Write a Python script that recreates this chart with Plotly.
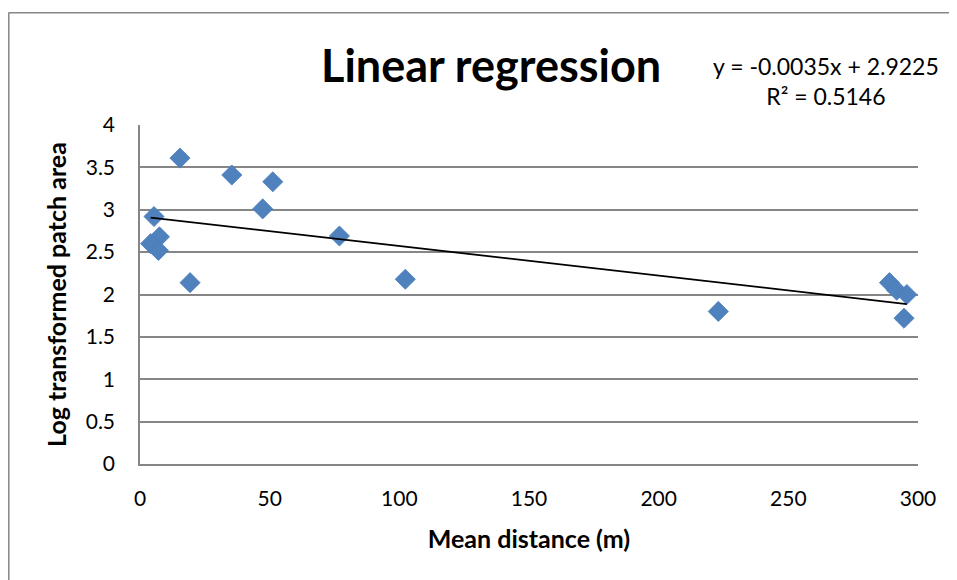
import plotly.graph_objects as go

# Data
mean_distance = [15.4, 35.4, 51.2, 47.3, 5.4, 7.5, 4.1, 7.1, 19.3, 76.9, 102.3,
                 223.0, 289.0, 291.8, 295.7, 294.6]
log_patch_area = [3.61, 3.41, 3.33, 3.01, 2.92, 2.68, 2.60, 2.52, 2.14, 2.69, 2.18,
                  1.80, 2.14, 2.05, 2.00, 1.72]

# Trendline coefficients as displayed on the chart
slope = -0.0035
intercept = 2.9225
r_squared = 0.5146

x_ticks = [0, 50, 100, 150, 200, 250, 300]
y_ticks = [0, 0.5, 1, 1.5, 2, 2.5, 3, 3.5, 4]

W, H = 957, 580
OFF = 8  # page body margin
L, R, T, B = 132, 47, 116.5, 123.5
pw, ph = W - L - R, H - T - B

def px(sx):
    return (sx - OFF - L) / pw

def py(sy):
    return (H - B - (sy - OFF)) / ph

font = "Lato, 'Open Sans', sans-serif"

x_line = [min(mean_distance), max(mean_distance)]
y_line = [slope * v + intercept for v in x_line]

fig = go.Figure()
fig.add_trace(go.Scatter(
    x=mean_distance, y=log_patch_area, mode="markers",
    marker=dict(symbol="diamond", size=15.5, color="#4F81BD",
                line=dict(width=0.8, color="#4A7EBB")),
    showlegend=False, hoverinfo="x+y"))
fig.add_trace(go.Scatter(
    x=x_line, y=y_line, mode="lines",
    line=dict(color="black", width=1.8), showlegend=False))

fig.update_layout(
    width=W, height=H,
    margin=dict(l=L, r=R, t=T, b=B),
    paper_bgcolor="white", plot_bgcolor="white",
    font=dict(family=font, color="black", size=21),
    xaxis=dict(range=[0, 300], tickvals=x_ticks, ticks="", showgrid=False,
               showline=True, linecolor="#868686", linewidth=1.5,
               zeroline=False, tickfont=dict(size=21), ticklabelstandoff=15,
               title=dict(text="<b>Mean distance (m)</b>", font=dict(size=25),
                          standoff=22)),
    yaxis=dict(range=[0, 4], tickvals=y_ticks, ticks="", showgrid=True,
               gridcolor="#868686", gridwidth=1.5,
               showline=True, linecolor="#868686", linewidth=1.5,
               zeroline=False, tickfont=dict(size=21), ticklabelstandoff=19,
               title=dict(text="<b>Log transformed patch area</b>", font=dict(size=25),
                          standoff=12)),
    shapes=[
        dict(type="line", xref="paper", yref="paper", x0=px(8.5), x1=px(W + 20),
             y0=py(12), y1=py(12), line=dict(color="#868686", width=1.5)),
        dict(type="line", xref="paper", yref="paper", x0=px(8.8), x1=px(8.8),
             y0=py(12), y1=py(H + 20), line=dict(color="#868686", width=1.5)),
    ],
    annotations=[
        dict(text="<b>Linear regression</b>", xref="paper", yref="paper",
             x=px(491), y=py(64), xanchor="center", yanchor="middle",
             showarrow=False, font=dict(size=45)),
        dict(text="y = -0.0035x + 2.9225<br>R² = 0.5146", xref="paper", yref="paper",
             x=px(826), y=py(80), xanchor="center", yanchor="middle", align="center",
             showarrow=False, font=dict(size=23)),
    ],
)

fig.write_html("out.html")
